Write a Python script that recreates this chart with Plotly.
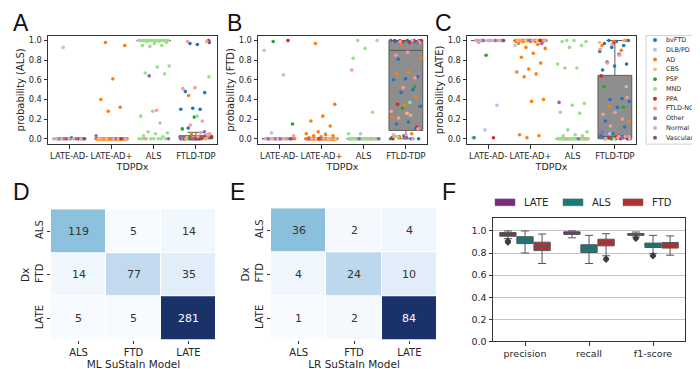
import plotly.graph_objects as go

W, H = 700, 369
FONT = "DejaVu Sans"
TXT = "#262626"

# ---------------- data ----------------
tdp_categories = ["LATE-AD-", "LATE-AD+", "ALS", "FTLD-TDP"]
dx_labels = ["bvFTD", "DLB/PD", "AD", "CBS", "PSP", "MND", "PPA", "FTLD-NOS", "Other", "Normal", "Vascular"]
dx_colors = ["#1f77b4", "#aec7e8", "#ff7f0e", "#ffbb78", "#2ca02c", "#98df8a",
             "#d62728", "#ff9896", "#9467bd", "#c5b0d5", "#8c564b"]

# Panel A: probability (ALS)
A_late_ad_neg = [("DLB/PD", [0.93] + [0.0] * 6), ("Normal", [0.0] * 5), ("Other", [0.0] * 3),
                 ("PSP", [0.01, 0.0]), ("PPA", [0.0] * 2), ("FTLD-NOS", [0.0] * 3),
                 ("AD", [0.0] * 3), ("CBS", [0.0] * 2), ("Vascular", [0.0])]
A_late_ad_pos = [("AD", [0.98, 0.95, 0.61, 0.40, 0.32, 0.28] + [0.0] * 55), ("Other", [0.03, 0.0]),
                 ("DLB/PD", [0.0] * 3), ("CBS", [0.0] * 3), ("Normal", [0.0] * 2),
                 ("FTLD-NOS", [0.0]), ("PPA", [0.0])]
A_als = [("MND", [1.0] * 20 + [0.99, 0.99, 0.98, 0.97, 0.95, 0.95, 0.94, 0.74, 0.73, 0.67, 0.66,
                               0.28, 0.23, 0.16, 0.07, 0.06, 0.05, 0.03, 0.02] + [0.0] * 8),
         ("Other", [0.64, 0.0]), ("FTLD-NOS", [0.29, 0.0])]
A_ftld = [("bvFTD", [0.97, 0.98, 0.96, 0.48, 0.47, 0.31, 0.30, 0.30, 0.11, 0.01, 0.0, 0.0, 0.02,
                     0.0, 0.01, 0.0, 0.0, 0.03, 0.0, 0.0, 0.01, 0.0]),
          ("PPA", [1.0, 0.0, 0.0, 0.01, 0.0, 0.02, 0.0]),
          ("FTLD-NOS", [0.99, 0.99, 0.52, 0.51, 0.18, 0.14, 0.05, 0.02, 0.0, 0.0, 0.01, 0.0, 0.06]),
          ("AD", [0.44, 0.02, 0.0, 0.0, 0.01, 0.05]), ("CBS", [0.03, 0.0, 0.01, 0.0]),
          ("PSP", [0.22, 0.10, 0.0, 0.01]), ("MND", [0.63, 0.23, 0.0]), ("Other", [0.07, 0.0, 0.0]),
          ("DLB/PD", [0.0, 0.01]), ("Normal", [0.04]), ("Vascular", [0.0])]
A_box_q1 = [0.0, 0.0, 0.998, 0.0]
A_box_med = [0.0, 0.0, 1.0, 0.01]
A_box_q3 = [0.0, 0.0, 1.0, 0.03]
A_box_lo = [0.0, 0.0, 0.995, 0.0]
A_box_hi = [0.0, 0.0, 1.0, 0.065]

# Panel B: probability (FTD)
B_late_ad_neg = [("PSP", [0.99, 0.15, 0.0, 0.0]), ("PPA", [1.0, 0.0]),
                 ("DLB/PD", [0.90, 0.65, 0.06] + [0.0] * 5), ("FTLD-NOS", [0.03, 0.0, 0.0]),
                 ("Normal", [0.0] * 5), ("Other", [0.0] * 3), ("AD", [0.0] * 3),
                 ("CBS", [0.0] * 2), ("Vascular", [0.0])]
B_late_ad_pos = [("AD", [0.97, 0.35, 0.23, 0.18, 0.13, 0.07, 0.05, 0.04, 0.03, 0.03, 0.02, 0.01] + [0.0] * 50),
                 ("DLB/PD", [0.05, 0.0, 0.0]), ("Other", [0.0, 0.0]), ("CBS", [0.0] * 3),
                 ("Normal", [0.0] * 2), ("FTLD-NOS", [0.0]), ("PPA", [0.0])]
B_als = [("MND", [1.0, 1.0, 0.92, 0.82, 0.27, 0.05, 0.05] + [0.0] * 38),
         ("FTLD-NOS", [0.70, 0.0]), ("Other", [0.0, 0.0])]
B_ftld = [("bvFTD", [1.0, 1.0, 1.0, 0.99, 0.99, 0.98, 1.0, 0.99, 0.81, 0.63, 0.61, 0.60, 0.50, 0.47,
                     0.33, 0.17, 0.15, 0.10, 0.03, 0.01, 0.0, 0.02, 0.0, 0.01]),
          ("PPA", [1.0, 1.0, 0.99, 1.0, 0.98, 0.35, 0.12, 0.01, 0.0]),
          ("FTLD-NOS", [1.0, 0.99, 0.98, 0.88, 0.85, 0.62, 0.52, 0.28, 0.24, 0.21, 0.10, 0.04, 0.02, 0.0]),
          ("AD", [0.97, 0.82, 0.68, 0.66, 0.43, 0.34, 0.22, 0.05, 0.01]), ("CBS", [0.99, 0.26, 0.03]),
          ("PSP", [0.53, 0.31, 0.0]), ("MND", [0.37, 0.02]), ("Other", [0.98, 0.01]),
          ("DLB/PD", [0.04]), ("Normal", [0.0])]
B_box_q1 = [0.0, 0.0, 0.0, 0.085]
B_box_med = [0.0, 0.0, 0.0, 0.90]
B_box_q3 = [0.0, 0.0, 0.0, 1.0]
B_box_lo = [0.0, 0.0, 0.0, 0.0]
B_box_hi = [0.0, 0.0, 0.0, 1.0]

# Panel C: probability (LATE)
C_late_ad_neg = [("DLB/PD", [1.0, 1.0, 1.0, 1.0, 0.34, 0.09, 0.01]), ("Normal", [1.0] * 5),
                 ("Other", [1.0] * 3), ("FTLD-NOS", [1.0, 0.98, 1.0]), ("PSP", [0.85, 0.01]),
                 ("PPA", [0.01, 1.0]), ("AD", [1.0] * 3), ("CBS", [1.0] * 2), ("Vascular", [1.0])]
C_late_ad_pos = [("AD", [1.0] * 40 + [0.99] * 5 + [0.97, 0.96, 0.93, 0.92, 0.87, 0.83, 0.77, 0.71, 0.68,
                                                0.66, 0.63, 0.40, 0.38, 0.04, 0.03, 0.01]),
                 ("DLB/PD", [0.95, 1.0, 1.0]), ("Other", [0.97, 1.0]), ("CBS", [1.0] * 3),
                 ("Normal", [1.0] * 2), ("FTLD-NOS", [1.0]), ("PPA", [1.0])]
C_als = [("MND", [1.0, 0.99, 1.0, 0.99, 0.95, 0.93, 0.76, 0.72, 0.72, 0.36, 0.34, 0.27, 0.26, 0.09,
                  0.07, 0.04, 0.03, 0.03] + [0.0] * 35),
         ("Other", [0.37, 0.0]), ("FTLD-NOS", [0.0, 0.0])]
C_ftld = [("bvFTD", [1.0, 1.0, 0.99, 0.97, 0.95, 0.93, 0.89, 0.86, 0.78, 0.76, 0.74, 0.70, 0.41, 0.40,
                     0.38, 0.32, 0.18, 0.12, 0.05, 0.03, 0.02, 0.01, 0.0, 0.0, 0.01, 0.02, 0.0, 0.0,
                     0.03, 0.01]),
          ("AD", [1.0, 0.99, 0.95, 0.90, 0.33, 0.17, 0.03, 0.0]),
          ("FTLD-NOS", [1.0, 0.96, 0.91, 0.85, 0.77, 0.42, 0.27, 0.25, 0.20, 0.13, 0.0, 0.01, 0.0, 0.02]),
          ("PPA", [0.97, 0.64, 0.0, 0.01, 0.0, 0.02]), ("PSP", [0.53, 0.32, 0.0]),
          ("CBS", [0.98, 0.02, 0.0]), ("MND", [0.53, 0.0]), ("Other", [0.07, 0.01]),
          ("DLB/PD", [0.05]), ("Normal", [0.02])]
C_box_q1 = [1.0, 1.0, 0.0, 0.0]
C_box_med = [1.0, 1.0, 0.0, 0.02]
C_box_q3 = [1.0, 1.0, 0.0, 0.645]
C_box_lo = [1.0, 1.0, 0.0, 0.0]
C_box_hi = [1.0, 1.0, 0.0, 1.0]

# Confusion matrices
sustain_classes = ["ALS", "FTD", "LATE"]
D_matrix = [[119, 5, 14], [14, 77, 35], [5, 5, 281]]
E_matrix = [[36, 2, 4], [4, 24, 10], [1, 2, 84]]

# Panel F: classification metrics
metrics = ["precision", "recall", "f1-score"]
f_classes = ["LATE", "ALS", "FTD"]
f_colors = ["#7b2a7c", "#167b78", "#b3302e"]
F_LATE_q1 = [0.952, 0.968, 0.960]
F_LATE_med = [0.965, 0.978, 0.968]
F_LATE_q3 = [0.985, 0.992, 0.976]
F_LATE_lo = [0.930, 0.938, 0.945]
F_LATE_hi = [1.0, 1.0, 0.99]
F_ALS_q1 = [0.885, 0.805, 0.850]
F_ALS_med = [0.918, 0.845, 0.870]
F_ALS_q3 = [0.948, 0.875, 0.890]
F_ALS_lo = [0.800, 0.705, 0.795]
F_ALS_hi = [1.0, 0.960, 0.960]
F_FTD_q1 = [0.822, 0.865, 0.845]
F_FTD_med = [0.860, 0.890, 0.870]
F_FTD_q3 = [0.898, 0.925, 0.895]
F_FTD_lo = [0.705, 0.775, 0.780]
F_FTD_hi = [0.972, 0.975, 0.955]
F_LATE_out = [[0.91, 0.90, 0.895], [], [0.935, 0.93]]
F_ALS_out = [[], [], [0.78, 0.77]]
F_FTD_out = [[], [0.75, 0.74], []]

# ---------------- helpers ----------------
def dom_x(a, b):
    return [a / W, b / W]


def dom_y(top, bottom):
    return [1 - bottom / H, 1 - top / H]


def jitter(k):
    return ((k * 0.6180339887 + 0.31) % 1.0 - 0.5) * 0.74


fig = go.Figure()

top_panels = [
    (1, [A_late_ad_neg, A_late_ad_pos, A_als, A_ftld], (A_box_q1, A_box_med, A_box_q3, A_box_lo, A_box_hi), "probability (ALS)", (40, 209)),
    (2, [B_late_ad_neg, B_late_ad_pos, B_als, B_ftld], (B_box_q1, B_box_med, B_box_q3, B_box_lo, B_box_hi), "probability (FTD)", (250, 419)),
    (3, [C_late_ad_neg, C_late_ad_pos, C_als, C_ftld], (C_box_q1, C_box_med, C_box_q3, C_box_lo, C_box_hi), "probability (LATE)", (459, 628)),
]

axis_common = dict(showline=True, mirror=True, linecolor="#333333", linewidth=1,
                   ticks="outside", ticklen=3.5, tickcolor="#333333", tickwidth=1,
                   showgrid=False, zeroline=False,
                   tickfont=dict(family=FONT, size=8.3, color=TXT))

for idx, cats, stats, ytitle, (xa, xb) in top_panels:
    xref = "x" if idx == 1 else f"x{idx}"
    yref = "y" if idx == 1 else f"y{idx}"
    q1, med, q3, lo, hi = stats
    fig.add_trace(go.Box(x=list(range(len(tdp_categories))), q1=q1, median=med, q3=q3,
                         lowerfence=lo, upperfence=hi, width=0.8, whiskerwidth=0.5,
                         fillcolor="#8e8e8e", line=dict(color="#5a5a5a", width=1),
                         boxpoints=False, showlegend=False, hoverinfo="skip",
                         xaxis=xref, yaxis=yref))
    pts = {d: ([], []) for d in dx_labels}
    for ci, groups in enumerate(cats):
        k = 0
        for dx, vals in groups:
            for v in vals:
                pts[dx][0].append(ci + jitter(k))
                pts[dx][1].append(v)
                k += 1
    for dx, col in zip(dx_labels, dx_colors):
        xs, ys = pts[dx]
        if xs:
            fig.add_trace(go.Scatter(x=xs, y=ys, mode="markers", name=dx,
                                     marker=dict(size=3.6, color=col, line=dict(width=0)),
                                     showlegend=False, xaxis=xref, yaxis=yref))
    xkey = "xaxis" if idx == 1 else f"xaxis{idx}"
    ykey = "yaxis" if idx == 1 else f"yaxis{idx}"
    fig.layout[xkey] = dict(axis_common, domain=dom_x(xa, xb), anchor=yref,
                            range=[-0.5, 3.5], tickvals=list(range(4)), ticktext=tdp_categories,
                            title=dict(text="TDPDx", font=dict(family=FONT, size=9.5, color=TXT), standoff=1))
    fig.layout[ykey] = dict(axis_common, domain=dom_y(28, 138), anchor=xref,
                            range=[-0.055, 1.05], tickvals=[0, 0.2, 0.4, 0.6, 0.8, 1.0],
                            tickformat=".1f",
                            title=dict(text=ytitle, font=dict(family=FONT, size=10, color=TXT), standoff=2))

# legend for dx (manual)
shapes = [dict(type="rect", xref="paper", yref="paper", x0=638 / W, x1=706 / W,
               y0=1 - 138 / H, y1=1 - 28 / H, line=dict(color="#d0d0d0", width=1),
               fillcolor="white", layer="below")]
annotations = []
for i, (dx, col) in enumerate(zip(dx_labels, dx_colors)):
    cy = 32.5 + i * 9.9
    r = 2.0
    shapes.append(dict(type="circle", xref="paper", yref="paper",
                       x0=(647 - r) / W, x1=(647 + r) / W, y0=1 - (cy + r) / H, y1=1 - (cy - r) / H,
                       fillcolor=col, line=dict(width=0)))
    annotations.append(dict(x=657 / W, y=1 - cy / H, xref="paper", yref="paper", text=dx,
                            showarrow=False, xanchor="left", yanchor="middle", borderpad=0,
                            font=dict(family=FONT, size=6.4, color=TXT)))

# ---------------- heatmaps ----------------
blues = [[0.0, "rgb(247,251,255)"], [0.125, "rgb(222,235,247)"], [0.25, "rgb(198,219,239)"],
         [0.375, "rgb(158,202,225)"], [0.5, "rgb(107,174,214)"], [0.625, "rgb(66,146,198)"],
         [0.75, "rgb(33,113,181)"], [0.875, "rgb(18,82,156)"], [1.0, "rgb(26,49,106)"]]
heat_panels = [(4, D_matrix, "ML SuStaIn Model", (43, 208), (204, 337)),
               (5, E_matrix, "LR SuStaIn Model", (263, 429), (203, 337))]
for idx, mat, xtitle, (xa, xb), (yt, yb) in heat_panels:
    xref, yref = f"x{idx}", f"y{idx}"
    fig.add_trace(go.Heatmap(z=mat, x=sustain_classes, y=sustain_classes, colorscale=blues,
                             showscale=False, xgap=1, ygap=1, hoverinfo="skip",
                             xaxis=xref, yaxis=yref))
    zmin = min(min(r) for r in mat)
    zmax = max(max(r) for r in mat)
    for ri, row in enumerate(mat):
        for cj, v in enumerate(row):
            frac = (v - zmin) / (zmax - zmin)
            annotations.append(dict(x=sustain_classes[cj], y=sustain_classes[ri], xref=xref, yref=yref,
                                    text=str(v), showarrow=False,
                                    font=dict(family=FONT, size=11, color="white" if frac > 0.6 else "#333333")))
    hax = dict(showline=False, showgrid=False, zeroline=False, ticks="outside", ticklen=3,
               tickcolor="#333333", tickfont=dict(family=FONT, size=10, color=TXT))
    fig.layout[f"xaxis{idx}"] = dict(hax, domain=dom_x(xa, xb), anchor=yref,
                                     title=dict(text=xtitle, font=dict(family=FONT, size=10.5, color=TXT), standoff=0))
    fig.layout[f"yaxis{idx}"] = dict(hax, domain=dom_y(yt, yb), anchor=xref, autorange="reversed",
                                     tickangle=-90,
                                     title=dict(text="Dx", font=dict(family=FONT, size=10.5, color=TXT), standoff=2))

# ---------------- panel F ----------------
f_stats = [(F_LATE_q1, F_LATE_med, F_LATE_q3, F_LATE_lo, F_LATE_hi, F_LATE_out),
           (F_ALS_q1, F_ALS_med, F_ALS_q3, F_ALS_lo, F_ALS_hi, F_ALS_out),
           (F_FTD_q1, F_FTD_med, F_FTD_q3, F_FTD_lo, F_FTD_hi, F_FTD_out)]
hue_offsets = [-0.267, 0.0, 0.267]
for ci, (name, col, st, off) in enumerate(zip(f_classes, f_colors, f_stats, hue_offsets)):
    q1, med, q3, lo, hi, outs = st
    fig.add_trace(go.Box(x=[m + off for m in range(len(metrics))], q1=q1, median=med, q3=q3,
                         lowerfence=lo, upperfence=hi, width=0.255, whiskerwidth=0.5,
                         fillcolor=col, line=dict(color="#555555", width=1), boxpoints=False,
                         name=name, showlegend=False, hoverinfo="skip", xaxis="x6", yaxis="y6"))
    ox, oy = [], []
    for m, vals in enumerate(outs):
        for v in vals:
            ox.append(m + off)
            oy.append(v)
    if ox:
        fig.add_trace(go.Scatter(x=ox, y=oy, mode="markers", showlegend=False, hoverinfo="skip",
                                 marker=dict(symbol="diamond", size=5, color="#3d3d3d"),
                                 xaxis="x6", yaxis="y6"))

fig.layout["xaxis6"] = dict(domain=dom_x(485, 677), anchor="y6", range=[-0.5, 2.5],
                            tickvals=list(range(3)), ticktext=metrics,
                            showline=True, mirror=True, linecolor="#333333", linewidth=1,
                            ticks="outside", ticklen=3.5, tickcolor="#333333", showgrid=False,
                            zeroline=False, tickfont=dict(family=FONT, size=9.5, color=TXT))
fig.layout["yaxis6"] = dict(domain=dom_y(213, 338), anchor="x6", range=[0, 1.116],
                            tickvals=[0, 0.2, 0.4, 0.6, 0.8, 1.0], tickformat=".1f",
                            showline=True, mirror=True, linecolor="#333333", linewidth=1,
                            ticks="outside", ticklen=3.5, tickcolor="#333333",
                            showgrid=True, gridcolor="#c4c4c4", gridwidth=1, zeroline=False,
                            tickfont=dict(family=FONT, size=9.5, color=TXT))

# legend for F (manual)
f_leg_x = [487, 555, 615]
for name, col, lx in zip(f_classes, f_colors, f_leg_x):
    shapes.append(dict(type="rect", xref="paper", yref="paper", x0=lx / W, x1=(lx + 20) / W,
                       y0=1 - 200.5 / H, y1=1 - 193.5 / H, fillcolor=col,
                       line=dict(color="#666666", width=0.5)))
    annotations.append(dict(x=(lx + 27) / W, y=1 - 197 / H, xref="paper", yref="paper", text=name,
                            showarrow=False, xanchor="left", yanchor="middle",
                            font=dict(family=FONT, size=10, color=TXT)))

# panel letters
for letter, lx, ly in [("A", 13, 15), ("B", 226, 15), ("C", 435, 15),
                       ("D", 13, 187), ("E", 229, 187), ("F", 441, 187)]:
    annotations.append(dict(x=lx / W, y=1 - ly / H, xref="paper", yref="paper", text=letter,
                            showarrow=False, xanchor="center", yanchor="middle",
                            font=dict(family="Liberation Sans Narrow, Liberation Sans, Arial", size=23, color="#111111")))

fig.update_layout(width=W, height=H, margin=dict(l=0, r=0, t=0, b=0),
                  paper_bgcolor="white", plot_bgcolor="white", showlegend=False,
                  shapes=shapes, annotations=annotations, boxmode="overlay",
                  font=dict(family=FONT, color=TXT))

fig.write_html("out.html")
